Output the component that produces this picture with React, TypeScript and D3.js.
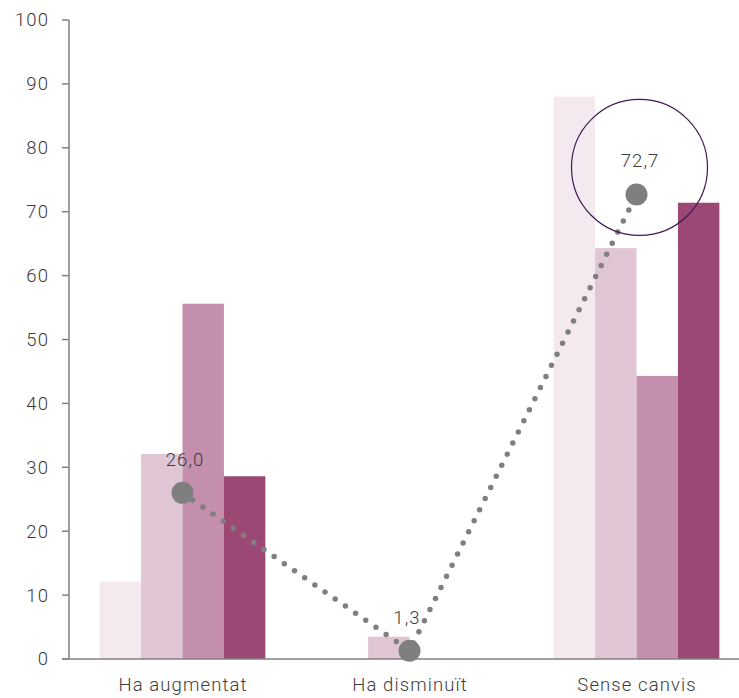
import React from "react";
import * as d3 from "d3";

const categories = ["Ha augmentat", "Ha disminuït", "Sense canvis"];
const series1 = [12.1, 0, 88.0];
const series2 = [32.1, 3.5, 64.3];
const series3 = [55.6, 0, 44.3];
const series4 = [28.6, 0, 71.4];
const lineValues = [26.0, 1.3, 72.7];
const lineLabels = ["26,0", "1,3", "72,7"];
const yTicks = [0, 10, 20, 30, 40, 50, 60, 70, 80, 90, 100];
const seriesColors = ["#f5e9f0", "#e0c5d5", "#c48fad", "#9b4875"];

const W = 739;
const H = 698;
const FONT = "Roboto, 'Helvetica Neue', Arial, sans-serif";
const FS = 18.5;
const LS = 1.1;

export default function App() {
  const x = d3.scaleBand<string>().domain(categories).range([69, 750]).paddingInner(0.27).paddingOuter(0.135);
  const y = d3.scaleLinear().domain([0, 100]).range([659, 20]);
  const allSeries = [series1, series2, series3, series4];
  const inner = d3.scaleBand<number>().domain([0, 1, 2, 3]).range([0, x.bandwidth()]);
  const cx = (c: string) => (x(c) as number) + x.bandwidth() / 2;
  const line = d3.line<number>().x((_, i) => cx(categories[i])).y((v) => y(v));
  const hl = 2;
  const hlX = cx(categories[hl]) + 3;
  const hlY = y(lineValues[hl]) - 27;
  const textProps = { fontSize: FS, fontWeight: 300, fill: "#3c3c3c", letterSpacing: LS };

  return (
    <svg width={W} height={H} style={{ position: "absolute", left: 0, top: 0 }} fontFamily={FONT}>
      {allSeries.map((s, si) =>
        s.map((v, ci) =>
          v > 0 ? (
            <rect
              key={`${si}-${ci}`}
              x={(x(categories[ci]) as number) + (inner(si) as number)}
              y={y(v)}
              width={inner.bandwidth()}
              height={y(0) - y(v)}
              fill={seriesColors[si]}
            />
          ) : null
        )
      )}
      <line x1={69} x2={69} y1={y(100)} y2={y(0)} stroke="#808080" strokeWidth={1.5} />
      <line x1={62} x2={W} y1={y(0)} y2={y(0)} stroke="#808080" strokeWidth={1.5} />
      {yTicks.map((t) => (
        <g key={t}>
          <line x1={62} x2={69} y1={y(t)} y2={y(t)} stroke="#808080" strokeWidth={1.5} />
          <text x={49} y={y(t)} dy="0.35em" textAnchor="end" {...textProps}>
            {t}
          </text>
        </g>
      ))}
      {categories.map((c) => (
        <text key={c} x={cx(c) + LS / 2} y={691} textAnchor="middle" {...textProps}>
          {c}
        </text>
      ))}
      <path
        d={line(lineValues) || ""}
        fill="none"
        stroke="#7f7f7f"
        strokeWidth={5.5}
        strokeLinecap="round"
        strokeDasharray="0 12.4"
      />
      {lineValues.map((v, i) => (
        <circle key={i} cx={cx(categories[i])} cy={y(v)} r={11} fill="#7f7f7f" />
      ))}
      {lineValues.map((v, i) => (
        <text
          key={i}
          x={cx(categories[i]) - (i === 1 ? 3 : 0) + (i === 2 ? 3 : 0) + (i === 0 ? 2 : 0) + LS / 2}
          y={y(v) - 27}
          textAnchor="middle"
          {...textProps}
        >
          {lineLabels[i]}
        </text>
      ))}
      <circle cx={hlX} cy={hlY} r={68} fill="none" stroke="#3f1a58" strokeWidth={1.2} />
    </svg>
  );
}
